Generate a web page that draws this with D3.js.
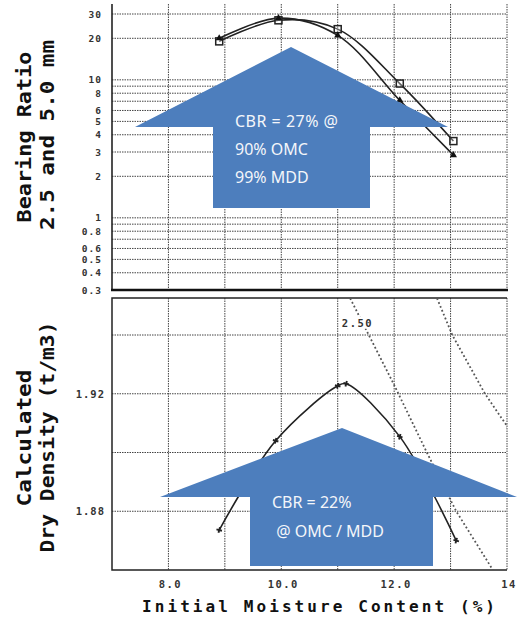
<!DOCTYPE html>
<html><head><meta charset="utf-8">
<script src="https://cdn.jsdelivr.net/npm/d3@7"></script>
<style>html,body{margin:0;padding:0;background:#fff;}svg{display:block;}</style>
</head><body>
<script>
// ---- data ----
const xTickValues = [8, 10, 12, 14];
const xTickLabels = ["8.0", "10.0", "12.0", "14"];
const xGrid = [8, 9, 10, 11, 12, 13, 14];
const topTickValues = [30, 20, 10, 8, 6, 5, 4, 3, 2, 1, 0.8, 0.6, 0.5, 0.4, 0.3];
const topTickLabels = ["30", "20", "10", "8", "6", "5", "4", "3", "2", "1", "0.8", "0.6", "0.5", "0.4", "0.3"];
const topGrid = [0.4, 0.5, 0.6, 0.7, 0.8, 0.9, 1, 2, 3, 4, 5, 6, 7, 8, 9, 10, 20, 30];
const botTickValues = [1.92, 1.88];
const botTickLabels = ["1.92", "1.88"];
const botGrid = [1.88, 1.90, 1.92, 1.94];
// Bearing ratio (moisture %, CBR %)
const moisture = [8.9, 9.95, 11.0, 12.1, 13.05];
const cbr25 = [19, 27, 23.3, 9.4, 3.6];   // squares
const cbr50 = [20, 28, 21, 7.1, 2.85];    // triangles
// Dry density (moisture %, t/m3)
const densMoisture = [8.9, 9.9, 11.0, 11.15, 12.1, 13.1];
const density = [1.8736, 1.904, 1.9227, 1.9234, 1.9054, 1.870];
// Zero-air-voids reference lines (dotted)
const zav1 = [[11.22, 1.9525], [12.0, 1.923], [12.58, 1.90], [13.1, 1.88], [13.75, 1.86]];
const zav2 = [[12.76, 1.9525], [13.03, 1.94], [13.61, 1.92], [14.0, 1.909], [14.2, 1.90]];
const zavLabel = "2.50";
const note1 = ["CBR = 27% @", "90% OMC", "99% MDD"];
const note2 = ["CBR = 22%", " @ OMC / MDD"];

// ---- layout ----
const W = 517, H = 618;
const svg = d3.select("body").append("svg").attr("width", W).attr("height", H);
const L = 112, R = 507;
const topT = 4, topB = 290, botT = 298, botB = 570;
const x = d3.scaleLinear().domain([7, 14]).range([L, R]);
const yT = d3.scaleLog().domain([0.3, 30]).range([topB, 14]);
const yB = d3.scaleLinear().domain([1.86, 1.94]).range([botB, 335]);
const mono = "'DejaVu Sans Mono', 'Liberation Mono', monospace";
const gridStroke = "#444", gridDash = "1.5,1";

// clip paths
const defs = svg.append("defs");
defs.append("clipPath").attr("id", "cTop").append("rect").attr("x", L).attr("y", topT).attr("width", R - L).attr("height", topB - topT);
defs.append("clipPath").attr("id", "cBot").append("rect").attr("x", L).attr("y", botT).attr("width", R - L).attr("height", botB - botT);

// ---- top panel grid ----
const gT = svg.append("g");
gT.selectAll(".hg").data(topGrid).enter().append("line")
  .attr("x1", L).attr("x2", R).attr("y1", d => yT(d)).attr("y2", d => yT(d))
  .attr("stroke", gridStroke).attr("stroke-width", 1).attr("stroke-dasharray", gridDash);
gT.selectAll(".vg").data(xGrid).enter().append("line")
  .attr("x1", d => x(d)).attr("x2", d => x(d)).attr("y1", topT).attr("y2", topB)
  .attr("stroke", gridStroke).attr("stroke-width", 1).attr("stroke-dasharray", gridDash);
gT.append("line").attr("x1", L).attr("x2", L).attr("y1", topT).attr("y2", topB).attr("stroke", "#222").attr("stroke-width", 1.6);
gT.append("line").attr("x1", L - 1).attr("x2", R + 1).attr("y1", topB).attr("y2", topB).attr("stroke", "#111").attr("stroke-width", 2.5);
gT.selectAll(".tl").data(topTickValues).enter().append("text")
  .attr("x", 102).attr("y", d => yT(d) + 3.5).attr("text-anchor", "end")
  .attr("font-family", mono).attr("font-weight", "bold").attr("font-size", 9.5).attr("fill", "#333")
  .attr("letter-spacing", 1)
  .text((d, i) => topTickLabels[i]);

// ---- bottom panel grid ----
const gB = svg.append("g");
gB.selectAll(".hg").data(botGrid).enter().append("line")
  .attr("x1", L).attr("x2", R).attr("y1", d => yB(d)).attr("y2", d => yB(d))
  .attr("stroke", gridStroke).attr("stroke-width", 1).attr("stroke-dasharray", gridDash);
gB.selectAll(".vg").data(xGrid).enter().append("line")
  .attr("x1", d => x(d)).attr("x2", d => x(d)).attr("y1", botT).attr("y2", botB)
  .attr("stroke", gridStroke).attr("stroke-width", 1).attr("stroke-dasharray", gridDash);
gB.append("path").attr("d", `M${R},${botT}H${L}V${botB}H${R}`).attr("fill", "none").attr("stroke", "#222").attr("stroke-width", 1.5);
gB.selectAll(".tl").data(botTickValues).enter().append("text")
  .attr("x", 105).attr("y", d => yB(d) + 4).attr("text-anchor", "end")
  .attr("font-family", mono).attr("font-weight", "bold").attr("font-size", 10.5).attr("fill", "#333")
  .attr("letter-spacing", 1)
  .text((d, i) => botTickLabels[i]);
gB.selectAll(".xl").data(xTickValues).enter().append("text")
  .attr("x", d => x(d) + 2).attr("y", 588).attr("text-anchor", "middle")
  .attr("font-family", mono).attr("font-weight", "bold").attr("font-size", 10.5).attr("fill", "#333")
  .attr("letter-spacing", 1.5)
  .text((d, i) => xTickLabels[i]);

// ---- axis titles ----
function vtitle(txt, cx, cy, len) {
  svg.append("text").attr("transform", `translate(${cx},${cy}) rotate(-90)`)
    .attr("text-anchor", "middle").attr("dy", "0.35em")
    .attr("font-family", mono).attr("font-weight", "bold").attr("font-size", 19).attr("fill", "#111")
    .attr("textLength", len).attr("lengthAdjust", "spacingAndGlyphs")
    .text(txt);
}
vtitle("Bearing Ratio", 24, 137, 171);
vtitle("2.5 and 5.0 mm", 47, 135, 190);
vtitle("Calculated", 24, 438, 137);
vtitle("Dry Density (t/m3)", 47, 437, 231);
svg.append("text").attr("x", 142).attr("y", 612)
  .attr("font-family", mono).attr("font-weight", "bold").attr("font-size", 16).attr("fill", "#111")
  .attr("textLength", 353).attr("lengthAdjust", "spacing")
  .text("Initial Moisture Content (%)");

// ---- top panel curves ----
const pTop = svg.append("g").attr("clip-path", "url(#cTop)");
const lineT = d3.line().x(d => x(d[0])).y(d => yT(d[1])).curve(d3.curveCatmullRom.alpha(0.5));
const s25 = moisture.map((m, i) => [m, cbr25[i]]);
const s50 = moisture.map((m, i) => [m, cbr50[i]]);
[s25, s50].forEach(s => pTop.append("path").attr("d", lineT(s)).attr("fill", "none").attr("stroke", "#222").attr("stroke-width", 1.6));
pTop.selectAll(".sq").data(s25).enter().append("rect")
  .attr("x", d => x(d[0]) - 3.5).attr("y", d => yT(d[1]) - 3.5).attr("width", 7).attr("height", 7)
  .attr("fill", "#fff").attr("fill-opacity", 0.3).attr("stroke", "#222").attr("stroke-width", 1.5);
pTop.selectAll(".tr").data(s50).enter().append("path")
  .attr("d", d3.symbol().type(d3.symbolTriangle).size(22))
  .attr("transform", d => `translate(${x(d[0])},${yT(d[1])})`).attr("fill", "#111");

// ---- bottom panel curves ----
const pBot = svg.append("g").attr("clip-path", "url(#cBot)");
const lineB = d3.line().x(d => x(d[0])).y(d => yB(d[1]));
[zav1, zav2].forEach(z => pBot.append("path").attr("d", lineB(z)).attr("fill", "none")
  .attr("stroke", "#555").attr("stroke-width", 1.8).attr("stroke-dasharray", "1.8,2.4"));
pBot.append("rect").attr("x", x(11.35) - 17).attr("y", yB(1.9435) - 8).attr("width", 34).attr("height", 12).attr("fill", "#fff");
pBot.append("text").attr("x", x(11.35)).attr("y", yB(1.9435) + 2).attr("text-anchor", "middle")
  .attr("font-family", mono).attr("font-weight", "bold").attr("font-size", 10.5).attr("fill", "#333").attr("letter-spacing", 1.5)
  .text(zavLabel);
const sD = densMoisture.map((m, i) => [m, density[i]]);
pBot.append("path").attr("d", lineB.curve(d3.curveCatmullRom.alpha(0.5))(sD)).attr("fill", "none").attr("stroke", "#222").attr("stroke-width", 1.6);
pBot.selectAll(".pl").data(sD).enter().append("path")
  .attr("d", d3.symbol().type(d3.symbolCross).size(18))
  .attr("transform", d => `translate(${x(d[0])},${yB(d[1])}) rotate(15)`).attr("fill", "#222");

// ---- annotation arrows ----
const blue = "#4d7ebd";
function upArrow(apexX, apexY, headL, headR, baseY, shaftL, shaftR, bottom) {
  const p = d3.path();
  p.moveTo(apexX, apexY); p.lineTo(headR, baseY); p.lineTo(shaftR, baseY); p.lineTo(shaftR, bottom);
  p.lineTo(shaftL, bottom); p.lineTo(shaftL, baseY); p.lineTo(headL, baseY); p.closePath();
  svg.append("path").attr("d", p.toString()).attr("fill", blue);
}
upArrow(291, 47, 135, 448, 127, 213, 370, 208);
upArrow(342, 428, 160, 517, 497, 250, 433, 566);
const nf = "'Noto Sans', 'Open Sans', sans-serif";
svg.selectAll(".n1").data(note1).enter().append("text")
  .attr("x", 235).attr("y", (d, i) => 127 + i * 28)
  .attr("font-family", nf).attr("font-size", 16).attr("fill", "#f4f6fa")
  .attr("textLength", (d, i) => i === 0 ? 103 : null)
  .attr("xml:space", "preserve").text(d => d);
svg.selectAll(".n2").data(note2).enter().append("text")
  .attr("x", 272).attr("y", (d, i) => 508 + i * 29)
  .attr("font-family", nf).attr("font-size", 16).attr("fill", "#f4f6fa")
  .attr("xml:space", "preserve").text(d => d);
</script>
</body></html>
